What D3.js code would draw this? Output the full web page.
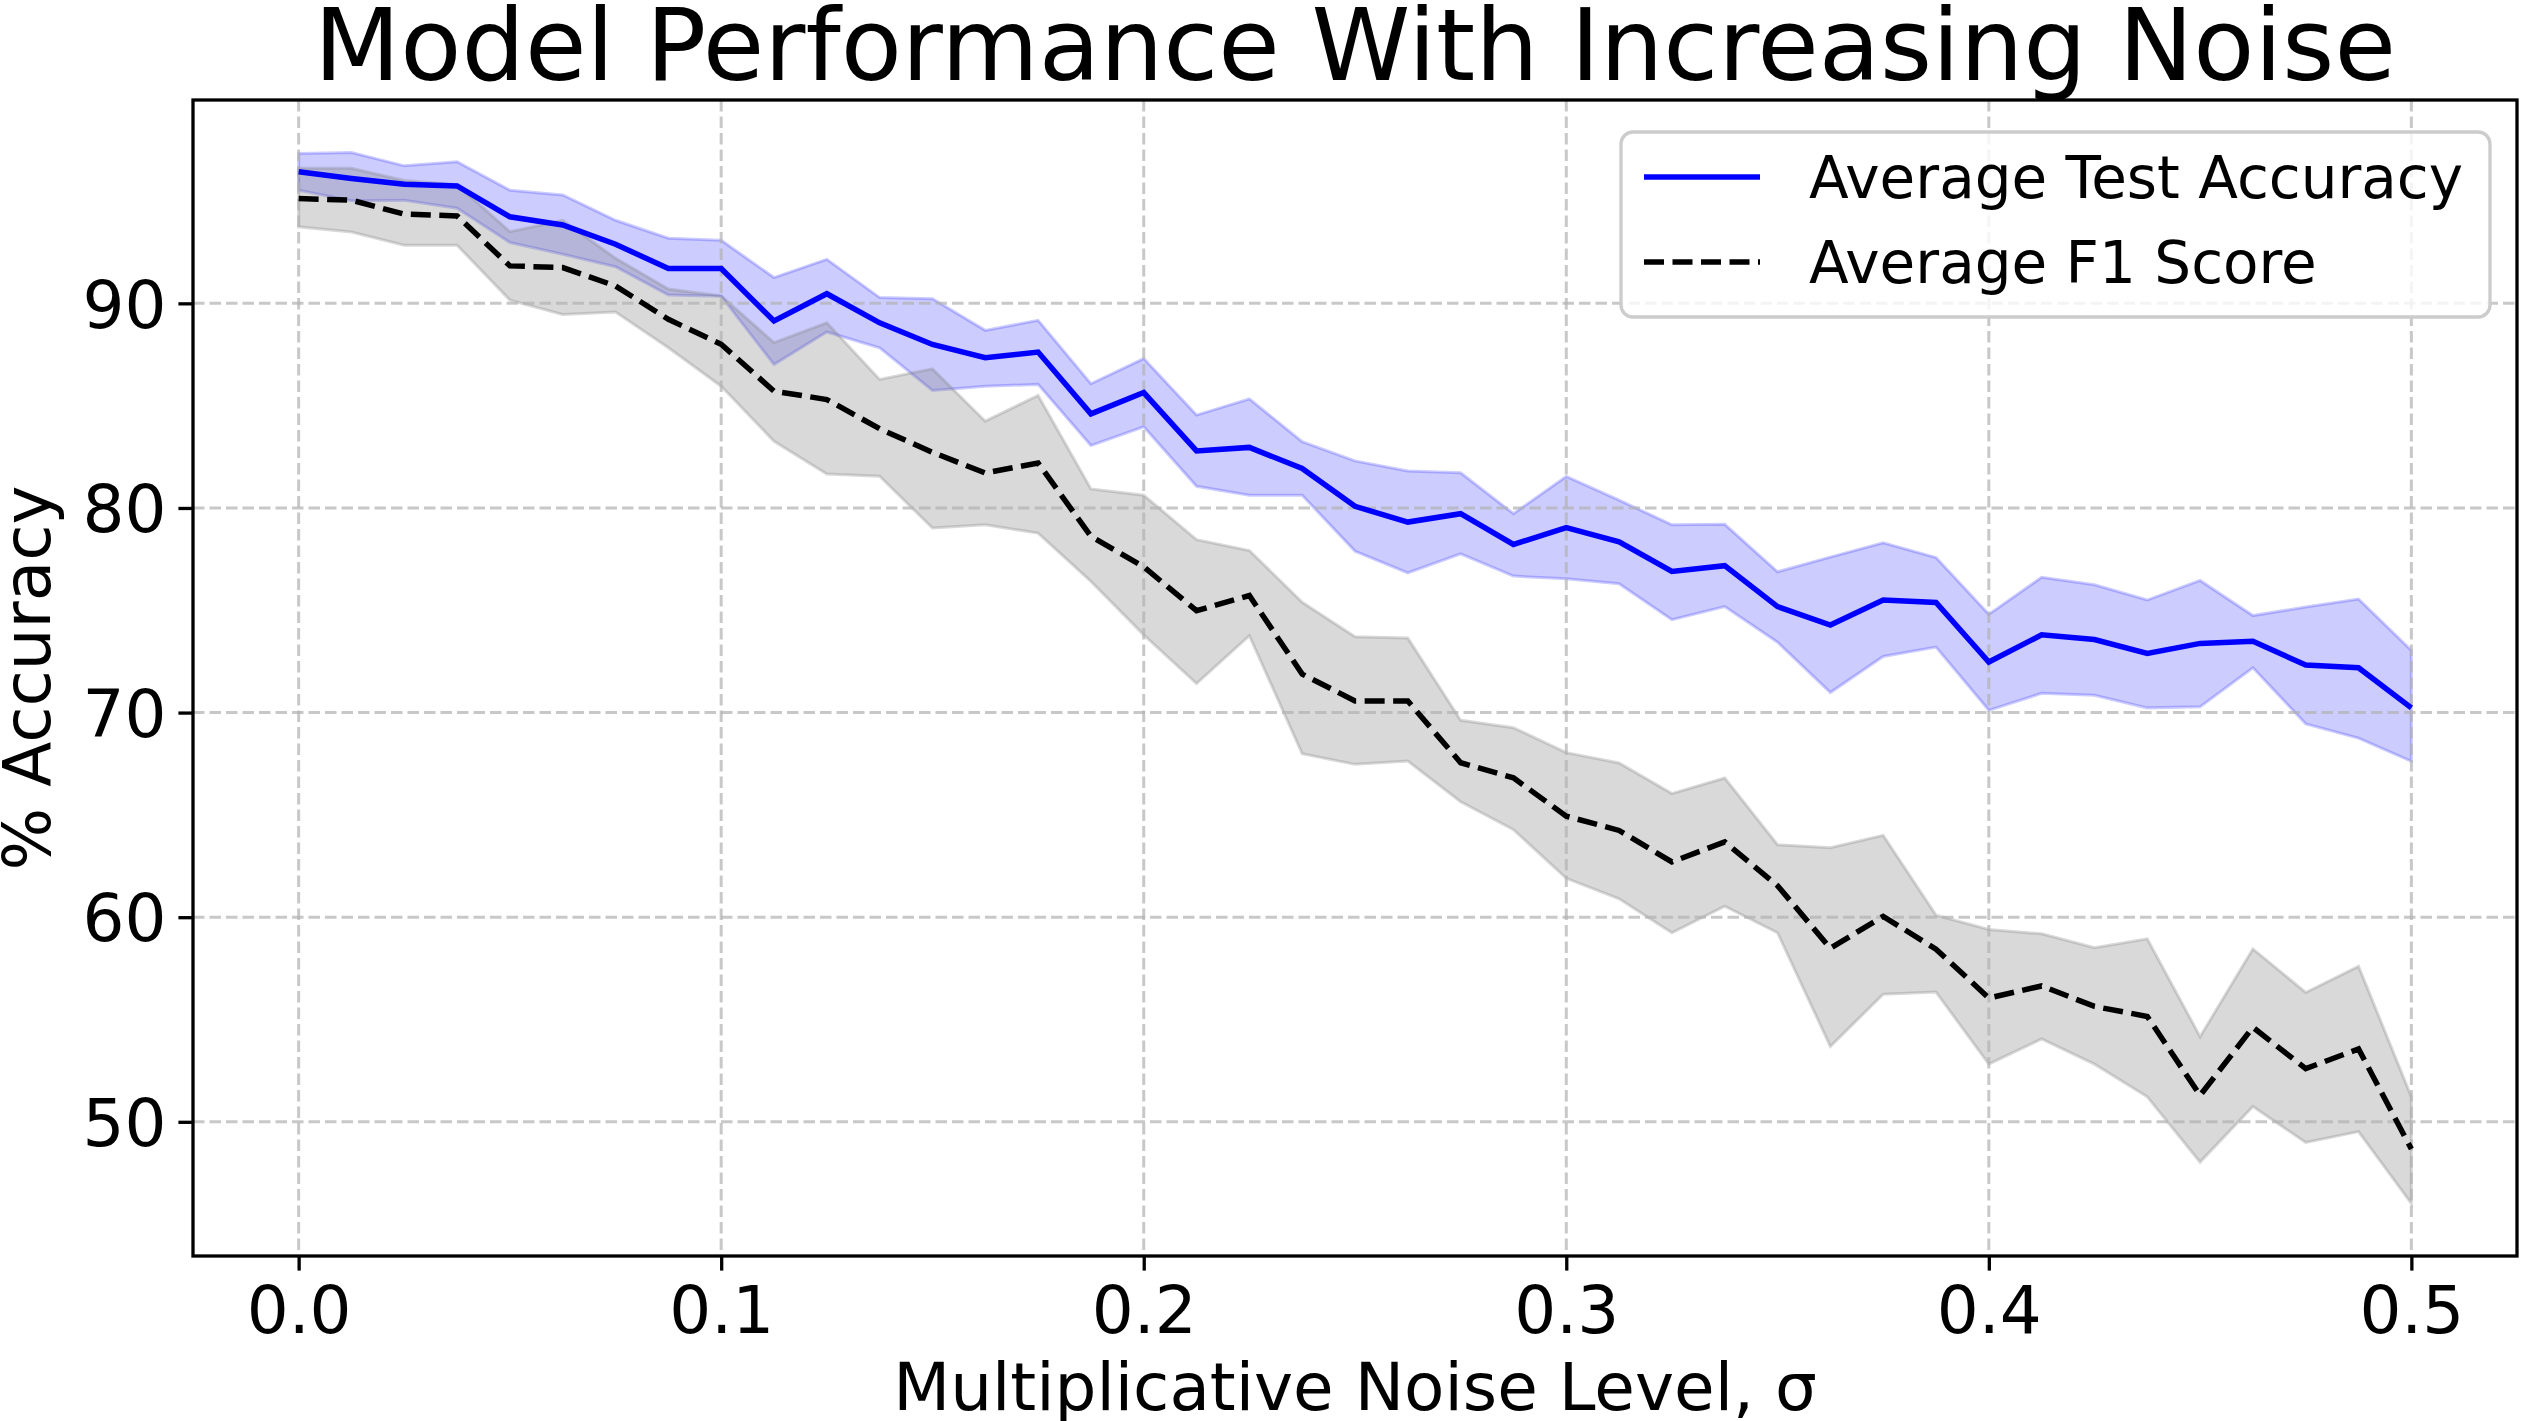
<!DOCTYPE html>
<html>
<head>
<meta charset="utf-8">
<script src="https://cdn.jsdelivr.net/npm/d3@7"></script>
<style>
  body { margin: 0; background: #fff; }
  text { font-family: "DejaVu Sans", sans-serif; fill: #000; }
</style>
</head>
<body>
<div id="chart"></div>
<script>
// noise levels (sigma)
var sigma = [0, 0.0125, 0.025, 0.0375, 0.05, 0.0625, 0.075, 0.0875, 0.1,
  0.1125, 0.125, 0.1375, 0.15, 0.1625, 0.175, 0.1875, 0.2,
  0.2125, 0.225, 0.2375, 0.25, 0.2625, 0.275, 0.2875, 0.3,
  0.3125, 0.325, 0.3375, 0.35, 0.3625, 0.375, 0.3875, 0.4,
  0.4125, 0.425, 0.4375, 0.45, 0.4625, 0.475, 0.4875, 0.5];

// average test accuracy and its band
var accMean = [96.43, 96.10, 95.82, 95.74, 94.23, 93.83, 92.89, 91.70, 91.70,
  89.14, 90.47, 89.05, 87.99, 87.34, 87.62, 84.60, 85.64,
  82.79, 82.96, 81.93, 80.08, 79.31, 79.72, 78.22, 79.04,
  78.34, 76.90, 77.18, 75.18, 74.28, 75.50, 75.38, 72.47,
  73.80, 73.57, 72.89, 73.38, 73.49, 72.32, 72.19, 70.23];
var accUpper = [97.32, 97.37, 96.72, 96.92, 95.53, 95.30, 94.06, 93.18, 93.08,
  91.26, 92.15, 90.28, 90.23, 88.68, 89.17, 86.07, 87.30,
  84.54, 85.33, 83.24, 82.30, 81.81, 81.72, 79.72, 81.54,
  80.38, 79.18, 79.20, 76.88, 77.60, 78.30, 77.58, 74.80,
  76.61, 76.25, 75.50, 76.46, 74.74, 75.16, 75.55, 73.04];
var accLower = [95.53, 95.01, 95.04, 94.65, 92.97, 92.40, 91.79, 90.41, 90.35,
  87.01, 88.60, 87.83, 85.74, 85.95, 86.04, 83.05, 83.97,
  81.06, 80.62, 80.62, 77.89, 76.83, 77.76, 76.67, 76.54,
  76.30, 74.54, 75.18, 73.44, 70.98, 72.74, 73.20, 70.11,
  70.94, 70.85, 70.23, 70.28, 72.19, 69.45, 68.75, 67.62];

// average F1 score and its band
var f1Mean = [95.12, 95.04, 94.36, 94.27, 91.83, 91.75, 90.85, 89.22, 88.00,
  85.71, 85.30, 83.87, 82.72, 81.71, 82.20, 78.61, 77.12,
  74.98, 75.72, 71.88, 70.57, 70.57, 67.55, 66.81, 64.94,
  64.24, 62.70, 63.68, 61.54, 58.48, 60.04, 58.44, 56.05,
  56.64, 55.64, 55.15, 51.29, 54.62, 52.60, 53.56, 48.67];
var f1Upper = [96.60, 96.60, 96.00, 95.80, 93.50, 94.05, 92.20, 90.70, 90.36,
  88.08, 89.05, 86.28, 86.80, 84.24, 85.50, 80.93, 80.62,
  78.45, 77.92, 75.39, 73.71, 73.64, 69.62, 69.26, 68.04,
  67.54, 66.04, 66.80, 63.54, 63.40, 64.00, 60.10, 59.40,
  59.19, 58.51, 58.94, 54.16, 58.45, 56.32, 57.60, 51.22];
var f1Lower = [93.74, 93.49, 92.84, 92.84, 90.16, 89.46, 89.58, 87.83, 85.95,
  83.26, 81.66, 81.55, 79.02, 79.18, 78.77, 76.41, 73.80,
  71.42, 73.76, 67.99, 67.47, 67.63, 65.64, 64.28, 61.90,
  60.90, 59.24, 60.54, 59.24, 53.68, 56.24, 56.34, 52.82,
  54.05, 52.82, 51.22, 48.03, 50.75, 48.99, 49.52, 46.01];

var xTicks = [0, 0.1, 0.2, 0.3, 0.4, 0.5];
var yTicks = [50, 60, 70, 80, 90];
var seriesNames = ["Average Test Accuracy", "Average F1 Score"];

//SVG area
var svgWidth = 2521;
var svgHeight = 1421;

var margin = {
  top: 100,
  right: 4,
  bottom: 165,
  left: 193
};

var width = svgWidth - margin.left - margin.right;
var height = svgHeight - margin.top - margin.bottom;

var svg = d3.select("#chart")
  .append("svg")
  .attr("width", svgWidth)
  .attr("height", svgHeight);

var chartGroup = svg.append("g")
  .attr("transform", `translate(${margin.left}, ${margin.top})`);

//matplotlib-style 5% margins
var xPad = (d3.max(sigma) - d3.min(sigma)) * 0.05;
var yMin = d3.min(f1Lower.concat(accLower));
var yMax = d3.max(f1Upper.concat(accUpper));
var yPad = (yMax - yMin) * 0.05;

var xScale = d3.scaleLinear()
  .domain([d3.min(sigma) - xPad, d3.max(sigma) + xPad])
  .range([0, width]);

var yScale = d3.scaleLinear()
  .domain([yMin - yPad, yMax + yPad])
  .range([height, 0]);

//bands
function band(lower, upper) {
  return d3.area()
    .x((d, i) => xScale(sigma[i]))
    .y0((d, i) => yScale(lower[i]))
    .y1((d, i) => yScale(upper[i]))(sigma);
}

chartGroup.append("path")
  .attr("d", band(accLower, accUpper))
  .attr("fill", "blue")
  .attr("fill-opacity", 0.2)
  .attr("stroke", "blue")
  .attr("stroke-opacity", 0.2)
  .attr("stroke-width", 3);

chartGroup.append("path")
  .attr("d", band(f1Lower, f1Upper))
  .attr("fill", "gray")
  .attr("fill-opacity", 0.3)
  .attr("stroke", "gray")
  .attr("stroke-opacity", 0.3)
  .attr("stroke-width", 3);

//grid
var grid = chartGroup.append("g")
  .attr("stroke", "#b0b0b0")
  .attr("stroke-opacity", 0.7)
  .attr("stroke-width", 3)
  .attr("stroke-dasharray", "11.5,5");

grid.selectAll(".vgrid")
  .data(xTicks)
  .enter()
  .append("line")
  .attr("x1", d => xScale(d))
  .attr("x2", d => xScale(d))
  .attr("y1", 0)
  .attr("y2", height);

grid.selectAll(".hgrid")
  .data(yTicks)
  .enter()
  .append("line")
  .attr("x1", 0)
  .attr("x2", width)
  .attr("y1", d => yScale(d))
  .attr("y2", d => yScale(d));

//lines
var line = d3.line()
  .x((d, i) => xScale(sigma[i]))
  .y(d => yScale(d));

chartGroup.append("path")
  .attr("d", line(accMean))
  .attr("fill", "none")
  .attr("stroke", "blue")
  .attr("stroke-width", 5.5);

chartGroup.append("path")
  .attr("d", line(f1Mean))
  .attr("fill", "none")
  .attr("stroke", "black")
  .attr("stroke-width", 5.5)
  .attr("stroke-dasharray", "20,8.5");

//axes
var bottomAxis = d3.axisBottom(xScale)
  .tickValues(xTicks)
  .tickFormat(d3.format(".1f"))
  .tickSize(14.6)
  .tickPadding(12);
var leftAxis = d3.axisLeft(yScale)
  .tickValues(yTicks)
  .tickSize(14.6)
  .tickPadding(12);

var xAxisG = chartGroup.append("g")
  .attr("transform", `translate(0, ${height})`)
  .call(bottomAxis);
var yAxisG = chartGroup.append("g")
  .call(leftAxis);

[xAxisG, yAxisG].forEach(function(g) {
  g.select(".domain").remove();
  g.selectAll("line").attr("stroke", "black").attr("stroke-width", 3.3);
  g.selectAll("text")
    .attr("font-family", "DejaVu Sans")
    .attr("font-size", "66px")
    .attr("fill", "black");
});
xAxisG.selectAll("text").attr("dy", "0.76em");
yAxisG.selectAll("text").attr("dy", "0.36em");

//frame
chartGroup.append("rect")
  .attr("width", width)
  .attr("height", height)
  .attr("fill", "none")
  .attr("stroke", "black")
  .attr("stroke-width", 3.3);

//legend
var legend = svg.append("g");
legend.append("rect")
  .attr("x", 1621)
  .attr("y", 132)
  .attr("width", 869)
  .attr("height", 185)
  .attr("rx", 12)
  .attr("fill", "white")
  .attr("fill-opacity", 0.8)
  .attr("stroke", "#cccccc")
  .attr("stroke-width", 3.3);

var legendItems = legend.selectAll(".item")
  .data(seriesNames)
  .enter()
  .append("g")
  .attr("transform", (d, i) => `translate(1644, ${177 + i * 85})`);

legendItems.append("line")
  .attr("x1", 0)
  .attr("x2", 116)
  .attr("stroke", (d, i) => i === 0 ? "blue" : "black")
  .attr("stroke-width", 5.5)
  .attr("stroke-dasharray", (d, i) => i === 0 ? null : "20,8.5");

legendItems.append("text")
  .attr("x", 165)
  .attr("dy", "0.36em")
  .attr("font-size", "58px")
  .text(d => d);

//title & axes labels
svg.append("text")
  .attr("x", margin.left + width / 2)
  .attr("y", 80)
  .attr("text-anchor", "middle")
  .attr("font-size", "100px")
  .text("Model Performance With Increasing Noise");

svg.append("text")
  .attr("x", margin.left + width / 2)
  .attr("y", 1410)
  .attr("text-anchor", "middle")
  .attr("font-size", "66px")
  .text("Multiplicative Noise Level, σ");

svg.append("text")
  .attr("transform", "rotate(-90)")
  .attr("x", -(margin.top + height / 2))
  .attr("y", 50)
  .attr("text-anchor", "middle")
  .attr("font-size", "66px")
  .text("% Accuracy");
</script>
</body>
</html>
